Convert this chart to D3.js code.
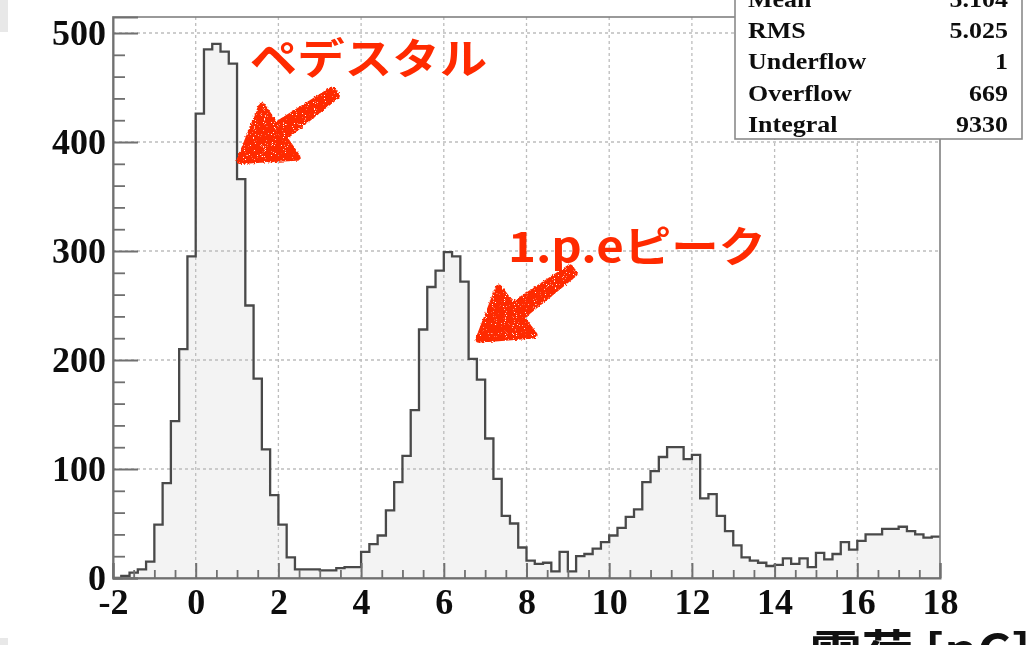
<!DOCTYPE html>
<html>
<head>
<meta charset="utf-8">
<script src="https://cdn.jsdelivr.net/npm/d3@7"></script>
<style>
  html, body { margin: 0; padding: 0; background: #fff; }
  svg { display: block; }
</style>
</head>
<body>
<svg id="chart" width="1026" height="645"></svg>
<script>
// Charge spectrum: 100 bins of 0.2 pC from -2 to 18 pC
const binLow = -2;
const binWidth = 0.2;
const binCounts = [
  0, 2, 5, 8, 15, 49, 87, 144, 210, 295,
  426, 485, 490, 483, 472, 366, 250, 183, 118, 76,
  49, 19, 8, 8, 8, 7, 7, 9, 10, 10,
  24, 31, 39, 62, 88, 112, 154, 228, 267, 282,
  299, 295, 272, 201, 182, 128, 91, 57, 50, 28,
  16, 13, 14, 6, 24, 6, 20, 22, 27, 33,
  39, 46, 56, 63, 88, 98, 111, 120, 120, 109,
  113, 73, 77, 57, 43, 30, 19, 16, 14, 11,
  12, 18, 13, 18, 10, 23, 17, 22, 33, 26,
  34, 40, 40, 45, 45, 47, 43, 40, 37, 38
];

const xTickValues = [-2, 0, 2, 4, 6, 8, 10, 12, 14, 16, 18];
const yTickValues = [0, 100, 200, 300, 400, 500];

const statNames = ["Mean", "RMS", "Underflow", "Overflow", "Integral"];
const statValues = ["5.104", "5.025", "1", "669", "9330"];

const peakLabels = ["ペデスタル", "1.p.eピーク"];
const axisTitle = "電荷 [pC]";

// ---- layout ----
const frame = { left: 113, right: 940, top: 17, bottom: 578 };
const yTop = 514.7;   // count at the upper frame edge
const red = "#ff2a00";

const svg = d3.select("#chart");

const defs = svg.append("defs");
const rough = defs.append("filter").attr("id", "rough")
  .attr("x", "-20%").attr("y", "-20%").attr("width", "140%").attr("height", "140%");
rough.append("feTurbulence").attr("type", "fractalNoise").attr("baseFrequency", 0.5)
  .attr("numOctaves", 2).attr("seed", 4).attr("result", "n");
rough.append("feDisplacementMap").attr("in", "SourceGraphic").attr("in2", "n")
  .attr("scale", 3.5).attr("xChannelSelector", "R").attr("yChannelSelector", "G").attr("result", "d");
rough.append("feTurbulence").attr("type", "fractalNoise").attr("baseFrequency", 1.1)
  .attr("numOctaves", 1).attr("seed", 9).attr("result", "n2");
rough.append("feColorMatrix").attr("in", "n2").attr("type", "matrix")
  .attr("values", "0 0 0 0 0  0 0 0 0 0  0 0 0 0 0  0 0 0 -14 10.2").attr("result", "mask");
rough.append("feComposite").attr("in", "d").attr("in2", "mask").attr("operator", "in");

const soft = defs.append("filter").attr("id", "soft");
soft.append("feGaussianBlur").attr("stdDeviation", 0.45);

// slide edge fragments
svg.append("rect").attr("x", 0).attr("y", 0).attr("width", 8).attr("height", 32).attr("fill", "#e8e8e8");
svg.append("rect").attr("x", 0).attr("y", 638).attr("width", 8).attr("height", 7).attr("fill", "#e8e8e8");

const x = d3.scaleLinear().domain([binLow, binLow + binWidth * binCounts.length])
  .range([frame.left, frame.right]);
const y = d3.scaleLinear().domain([0, yTop]).range([frame.bottom, frame.top]);

const plot = svg.append("g").attr("filter", "url(#soft)");

// histogram points (step after each bin edge)
const pts = binCounts.map((c, i) => ({ x: binLow + i * binWidth, c }));
pts.push({ x: binLow + binCounts.length * binWidth, c: binCounts[binCounts.length - 1] });

plot.append("path")
  .datum(pts)
  .attr("fill", "#f3f3f3")
  .attr("d", d3.area().curve(d3.curveStepAfter)
    .x(d => x(d.x)).y0(y(0)).y1(d => y(d.c)));

// grid
const gridX = xTickValues.filter(v => v > binLow && v < 18);
plot.append("g").selectAll("line").data(gridX).join("line")
  .attr("x1", d => x(d)).attr("x2", d => x(d))
  .attr("y1", frame.top).attr("y2", frame.bottom)
  .attr("stroke", "#bdbdbd").attr("stroke-width", 1.3).attr("stroke-dasharray", "3,3");
plot.append("g").selectAll("line").data(yTickValues.filter(v => v > 0)).join("line")
  .attr("x1", frame.left).attr("x2", frame.right)
  .attr("y1", d => y(d)).attr("y2", d => y(d))
  .attr("stroke", "#bdbdbd").attr("stroke-width", 1.3).attr("stroke-dasharray", "3,3");

// histogram outline
plot.append("path")
  .datum(pts)
  .attr("fill", "none")
  .attr("stroke", "#4a4a4a")
  .attr("stroke-width", 2.3)
  .attr("d", d3.line().curve(d3.curveStepAfter).x(d => x(d.x)).y(d => y(d.c)));

// frame
plot.append("rect")
  .attr("x", frame.left).attr("y", frame.top)
  .attr("width", frame.right - frame.left).attr("height", frame.bottom - frame.top)
  .attr("fill", "none").attr("stroke", "#808080").attr("stroke-width", 1.6);

const tickFont = g => g.selectAll("text")
  .attr("font-family", "'Liberation Serif', 'Times New Roman', serif")
  .attr("font-weight", "bold").attr("font-size", 36).attr("fill", "#111");

// y axis: majors every 100, minors every 20, ticks drawn inward
const yAxis = plot.append("g").attr("transform", `translate(${frame.left},0)`)
  .call(d3.axisLeft(y).tickValues(yTickValues).tickSize(-25).tickPadding(7));
yAxis.call(tickFont);
yAxis.select(".domain").attr("stroke", "#707070").attr("stroke-width", 2);
yAxis.selectAll(".tick line").attr("stroke", "#707070").attr("stroke-width", 2);
yAxis.selectAll("text").attr("dy", "0.33em");
plot.append("g").attr("transform", `translate(${frame.left},0)`)
  .call(d3.axisLeft(y).tickValues(d3.range(0, 501, 20).filter(v => v % 100)).tickSize(-12).tickFormat(""))
  .call(g => g.select(".domain").remove())
  .call(g => g.selectAll("line").attr("stroke", "#707070").attr("stroke-width", 1.8));

// x axis: majors every 2, minors every 0.5
const xAxis = plot.append("g").attr("transform", `translate(0,${frame.bottom})`)
  .call(d3.axisBottom(x).tickValues(xTickValues).tickSize(-15).tickPadding(10).tickFormat(d3.format("d")));
xAxis.call(tickFont);
xAxis.select(".domain").attr("stroke", "#707070").attr("stroke-width", 2);
xAxis.selectAll(".tick line").attr("stroke", "#707070").attr("stroke-width", 2);
xAxis.selectAll("text").text(d => d < 0 ? "-" + Math.abs(d) : d);
plot.append("g").attr("transform", `translate(0,${frame.bottom})`)
  .call(d3.axisBottom(x).tickValues(d3.range(-1.5, 18, 0.5).filter(v => v % 2 !== 0)).tickSize(-8).tickFormat(""))
  .call(g => g.select(".domain").remove())
  .call(g => g.selectAll("line").attr("stroke", "#707070").attr("stroke-width", 1.8));

// statistics box
const stats = plot.append("g");
stats.append("rect").attr("x", 735).attr("y", -5).attr("width", 287).attr("height", 144)
  .attr("fill", "#fff").attr("stroke", "#8a8a8a").attr("stroke-width", 1.6);
const rowBase = 7, rowStep = 31.2;
statNames.forEach((name, i) => {
  const by = rowBase + i * rowStep;
  stats.append("text")
    .attr("transform", `translate(748,${by}) scale(1.13,1)`)
    .attr("font-family", "'Liberation Serif', serif").attr("font-weight", "bold")
    .attr("font-size", 23).attr("fill", "#111").text(name);
  stats.append("text")
    .attr("transform", `translate(1008,${by}) scale(1.13,1)`)
    .attr("text-anchor", "end")
    .attr("font-family", "'Liberation Serif', serif").attr("font-weight", "bold")
    .attr("font-size", 23).attr("fill", "#111").text(statValues[i]);
});

// annotations: hand-drawn arrows pointing at the two peaks
const arrows = [
  { tip: [1.07, 383], top: [1.6, 433], side: [2.45, 386], tail: [3.35, 445] },
  { tip: [6.85, 219], top: [7.33, 266], side: [8.18, 223], tail: [9.1, 282] }
];
const ann = svg.append("g").attr("filter", "url(#rough)");
arrows.forEach(a => {
  const P = p => [x(p[0]), y(p[1])];
  const t = P(a.tip), u = P(a.top), s = P(a.side), e = P(a.tail);
  const base = [(u[0] + s[0]) / 2, (u[1] + s[1]) / 2];
  const dx = e[0] - base[0], dy = e[1] - base[1];
  const len = Math.hypot(dx, dy), nx = -dy / len, ny = dx / len;
  const w0 = 7, w1 = 3.5;
  const head = `M${t}L${u}L${s}Z`;
  const shaft = `M${base[0] + nx * w0},${base[1] + ny * w0}L${e[0] + nx * w1},${e[1] + ny * w1}` +
    `L${e[0] - nx * w1},${e[1] - ny * w1}L${base[0] - nx * w0},${base[1] - ny * w0}Z`;
  ann.append("path").attr("d", head + shaft).attr("fill", red)
    .attr("stroke", red).attr("stroke-width", 7).attr("stroke-linejoin", "round");
});

const labelPos = [[1.31, 462], [7.55, 290]];
peakLabels.forEach((txt, i) => {
  svg.append("text")
    .attr("transform", `translate(${x(labelPos[i][0])},${y(labelPos[i][1])}) scale(1.13,1)`)
    .attr("font-family", "'Noto Sans CJK JP', sans-serif").attr("font-weight", "bold")
    .attr("font-size", 42).attr("fill", red).text(txt);
});

svg.append("text")
  .attr("transform", `translate(810,668) scale(1.12,1)`)
  .attr("font-family", "'Noto Sans CJK JP', sans-serif").attr("font-weight", "bold")
  .attr("font-size", 46).attr("fill", "#111").text(axisTitle);
</script>
</body>
</html>
